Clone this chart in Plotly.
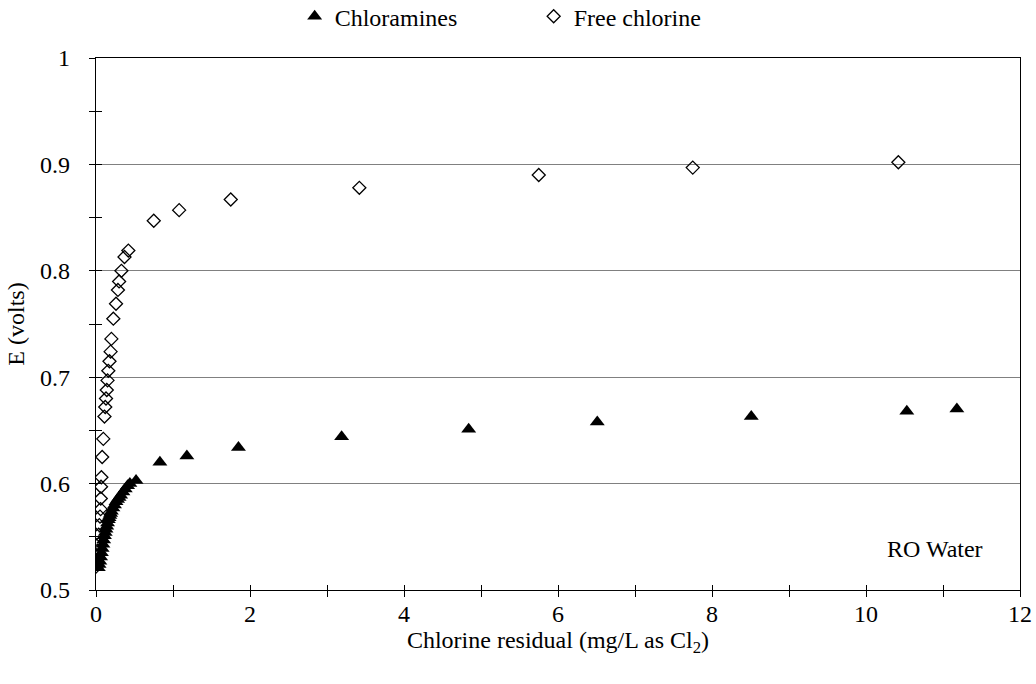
import plotly.graph_objects as go

# Chloramines (x: mg/L, y: volts)
chloramines_x = [0.03, 0.04, 0.05, 0.06, 0.07, 0.08, 0.09, 0.10, 0.11, 0.12, 0.13, 0.14,
                 0.15, 0.16, 0.17, 0.18, 0.19, 0.20, 0.22, 0.24, 0.26, 0.28, 0.30, 0.32,
                 0.35, 0.38, 0.41, 0.44, 0.52, 0.83, 1.18, 1.85, 3.19, 4.84, 6.51, 8.51,
                 10.53, 11.18]
chloramines_y = [0.521, 0.524, 0.527, 0.531, 0.535, 0.539, 0.543, 0.547, 0.551, 0.554, 0.557, 0.560,
                 0.563, 0.566, 0.568, 0.570, 0.572, 0.574, 0.577, 0.580, 0.583, 0.585, 0.587, 0.589,
                 0.592, 0.595, 0.598, 0.600, 0.603, 0.620, 0.626, 0.634, 0.644, 0.651, 0.658, 0.663,
                 0.668, 0.670]

# Free chlorine
free_x = [0.00, 0.005, 0.01, 0.015, 0.02, 0.03, 0.035, 0.043, 0.052, 0.06, 0.062, 0.065,
          0.07, 0.08, 0.095, 0.11, 0.12, 0.13, 0.14, 0.15, 0.16, 0.175, 0.19, 0.20, 0.225,
          0.26, 0.285, 0.30, 0.33, 0.37, 0.42, 0.75, 1.08, 1.75, 3.42, 5.75, 7.75, 10.42]
free_y = [0.522, 0.525, 0.528, 0.532, 0.537, 0.543, 0.552, 0.561, 0.569, 0.576, 0.586, 0.597,
          0.606, 0.625, 0.642, 0.663, 0.672, 0.680, 0.688, 0.697, 0.706, 0.715, 0.724, 0.736, 0.755,
          0.769, 0.782, 0.790, 0.800, 0.813, 0.819, 0.847, 0.857, 0.867, 0.878, 0.890, 0.897, 0.902]

FONT = "Liberation Serif"
FS = 24

fig = go.Figure()
fig.add_trace(go.Scatter(
    x=chloramines_x, y=chloramines_y, mode="markers", name="Chloramines",
    marker=dict(symbol="triangle-up", size=13, color="black", line=dict(width=0)),
))
fig.add_trace(go.Scatter(
    x=free_x, y=free_y, mode="markers", name="Free chlorine",
    marker=dict(symbol="diamond-open", size=10, color="black", line=dict(width=1.3)),
))
# invisible traces to bind overlay axes (used for crossing tick marks)
fig.add_trace(go.Scatter(x=[0], y=[0.5], xaxis="x2", yaxis="y2", showlegend=False,
                         mode="markers", marker=dict(opacity=0), hoverinfo="skip"))
fig.add_trace(go.Scatter(x=[0], y=[0.5], xaxis="x3", yaxis="y", showlegend=False,
                         mode="markers", marker=dict(opacity=0), hoverinfo="skip"))

fig.update_layout(
    width=1036, height=684,
    margin=dict(l=96, r=16, t=58, b=94, autoexpand=False),
    paper_bgcolor="white", plot_bgcolor="white",
    font=dict(family=FONT, size=FS, color="black"),
    showlegend=True,
    legend=dict(orientation="h", x=0.215, xanchor="left", y=1.12, yanchor="top",
                yref="paper", entrywidth=194, entrywidthmode="pixels",
                font=dict(family=FONT, size=FS), itemsizing="trace",
                bgcolor="rgba(0,0,0,0)"),
    xaxis=dict(range=[0, 12], dtick=2, tick0=0, showgrid=False, zeroline=False,
               showline=True, linecolor="black", linewidth=1.2, mirror=True,
               ticks="",
               title=dict(text="Chlorine residual (mg/L as Cl<sub>2</sub>)", standoff=4,
                          font=dict(family=FONT, size=FS)),
               ticklabelstandoff=2, automargin=False),
    yaxis=dict(range=[0.5, 1.0], dtick=0.1, tick0=0.5, showgrid=True, gridcolor="#808080",
               gridwidth=1, zeroline=False,
               showline=True, linecolor="black", linewidth=1.2, mirror=True,
               ticks="outside", ticklen=6, tickcolor="black", tickwidth=1,
               minor=dict(dtick=0.05, ticks="outside", ticklen=6, tickcolor="black",
                          tickwidth=1, showgrid=False),
               title=dict(text="E (volts)", standoff=8, font=dict(family=FONT, size=FS)),
               ticklabelstandoff=14, automargin=False),
    xaxis2=dict(range=[0, 12], dtick=1, tick0=0, overlaying="x", anchor="y", side="bottom",
                showgrid=False, zeroline=False, showline=False, showticklabels=False,
                ticks="inside", ticklen=5, tickcolor="black", tickwidth=1),
    xaxis3=dict(range=[0, 12], dtick=1, tick0=0, overlaying="x", anchor="y", side="bottom",
                showgrid=False, zeroline=False, showline=False, showticklabels=False,
                ticks="outside", ticklen=6, tickcolor="black", tickwidth=1),
    yaxis2=dict(range=[0.5, 1.0], dtick=0.05, tick0=0.5, overlaying="y", anchor="x", side="left",
                showgrid=False, zeroline=False, showline=False, showticklabels=False,
                ticks="inside", ticklen=6, tickcolor="black", tickwidth=1),
    annotations=[dict(x=11.55, y=0.539, xref="x", yref="y", text="RO Water", showarrow=False,
                      xanchor="right", yanchor="middle", font=dict(family=FONT, size=FS))],
)

fig.write_html("out.html")
